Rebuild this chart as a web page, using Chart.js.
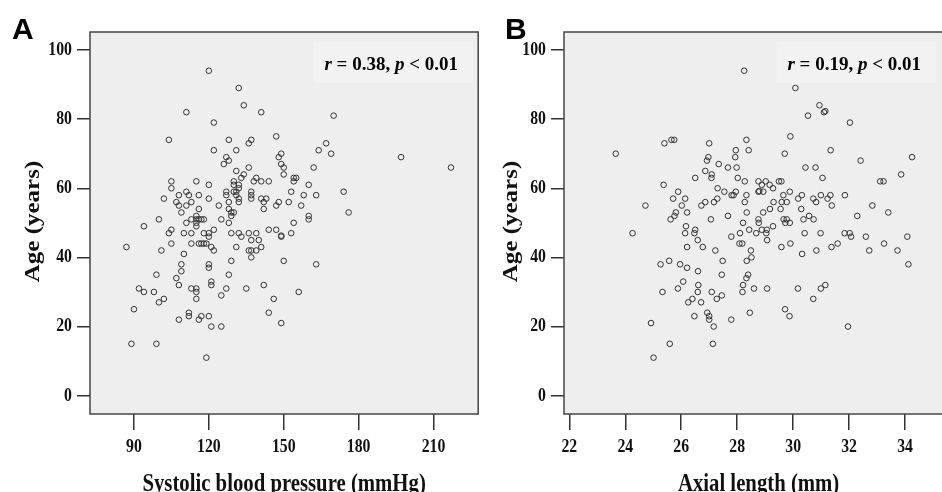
<!DOCTYPE html>
<html><head><meta charset="utf-8">
<script src="https://cdn.jsdelivr.net/npm/chart.js@4.4.1/dist/chart.umd.min.js"></script>
<style>
html,body{margin:0;padding:0;background:#fff;overflow:hidden;width:942px;height:492px;}
#wrap{position:relative;width:942px;height:492px;overflow:hidden;}
canvas{position:absolute;top:0;}
#cA{left:0;}
#cB{left:482px;}
</style></head><body>
<div id="wrap"><canvas id="cA" width="482" height="492"></canvas><canvas id="cB" width="475" height="492"></canvas></div>
<script>
// ---------- Data ----------
const sbpA = [120,132,134,111,141,170,122,104,128,137,136,147,167,164,169,122,131,149,148,197,217,127,128,126,149,150,136,162,131,134,133,150,154,155,154,130,138,141,144,139,105,115,120,130,132,160,105,132,130,131,127,111,137,153,174,108,112,116,127,131,137,158,163,102,120,132,137,141,143,107,113,128,132,142,148,152,108,111,124,147,157,116,128,142,109,129,130,176,115,160,129,113,115,116,117,118,100,125,160,111,115,128,154,94,115,105,122,144,147,104,110,113,118,120,129,132,136,139,153,120,133,149,149,137,140,105,113,116,117,118,119,87,121,131,141,101,122,136,137,139,110,137,120,109,129,150,163,120,109,99,128,107,121,121,108,142,92,113,115,127,135,94,98,115,156,125,102,115,146,100,90,112,112,144,117,120,108,116,149,121,125,89,99,119];
const ageA = [94,89,84,82,82,81,79,74,74,74,73,75,73,71,70,71,71,70,69,69,66,69,68,67,67,66,66,66,65,64,63,64,63,63,62,62,62,62,62,63,62,62,61,61,61,61,60,60,59,59,59,59,59,59,59,58,58,58,58,58,58,58,58,57,57,57,57,57,57,56,56,56,56,56,56,56,55,55,55,55,55,54,54,54,53,53,53,53,52,52,52,51,51,51,51,51,51,51,51,50,50,50,50,49,49,48,48,48,48,47,47,47,47,47,47,47,47,47,47,46,46,46,46.3,45,45,44,44,44,44,44,44,43,43,43,43,42,42,42,42,42,41,40,38,38,39,39,38,37,36,35,35,34,33,32,32,32,31,31,31,31,31,30,30,30,30,29,28,28,28,27,25,24,23,24,23,23,22,22,21,20,20,15,15,11];
const axialB = [28.25,30.08,30.94,31.1,31.15,30.53,32.03,29.9,25.4,25.65,25.75,27.0,28.33,28.41,27.95,31.34,23.66,29.7,27.93,26.97,34.25,26.92,32.41,27.34,27.67,27.98,30.44,30.8,26.86,27.09,33.86,26.5,27.08,28.02,31.05,28.27,28.76,29.02,29.49,29.58,33.11,33.23,25.37,28.88,29.16,29.28,27.3,25.89,27.54,27.95,28.76,28.93,28.79,29.88,27.8,27.87,28.33,29.65,30.31,30.99,31.33,31.85,25.71,26.14,27.29,30.18,30.72,31.23,26.86,27.17,28.27,29.3,29.59,29.77,30.82,24.72,26.02,26.72,31.38,32.83,29.55,30.29,29.17,25.81,26.21,28.34,28.93,33.4,25.76,27.67,30.57,32.29,25.62,27.06,28.76,29.66,29.77,30.37,30.73,28.21,28.77,29.72,29.88,26.17,29.28,26.5,28.43,28.88,29.06,24.26,26.14,26.47,28.1,28.68,29.04,30.41,30.98,31.84,32.02,27.79,32.07,32.6,34.08,26.59,29.07,28.08,28.18,29.9,31.59,33.25,26.21,26.77,29.58,31.37,27.22,28.49,30.83,32.72,33.73,30.32,28.51,27.48,28.34,25.26,25.96,34.12,25.57,26.21,26.6,27.45,28.39,28.33,26.07,26.61,28.21,31.15,25.88,28.6,29.07,30.17,30.99,25.33,26.59,27.09,28.19,27.27,27.45,26.4,30.72,26.25,26.71,29.71,28.45,26.93,26.47,27.0,29.87,27.0,27.79,24.92,27.16,31.96,25.59,27.13,25.01];
const ageB = [94,89,84,82,82.3,81,79,75,73,74,74,73,74,71,71,71,70,70,69,69,69,68,68,67,66,66,66,66,65,64,64,63,63,63,63,62,62,62,62,62,62,62,61,61,61,60,60,59,59,59,59,59,59.2,59,58,58,58,58,58,58,58,58,57,57,57,57,57,57,56,56,56,56,56,56,56,55,55,55,55,55,54,54,54,53,53,53,53,53,52,52,52,52,51,51,51,51,51,51,51,50,50,50,50,49,49,48,48,48,48,47,47,47,47,47,47,47,47,47,47,46,46,46,46,45,45,44,44,44,44,44,43,43,43,43,42,42,42,42,42,41,40,39,39,38,38,38,39,37,36,35,35,34,33,32,32,32,31,31,31,31,31,30,30,30,30,28,29,28,28,27,27,25,24,24,23,23,23,22,22,21,20,20,15,15,11];

const xTicksA = [90,120,150,180,210];
const xTicksB = [22,24,26,28,30,32,34];
const yTicks = [0,20,40,60,80,100];

const xTitleA = 'Systolic blood pressure (mmHg)';
const xTitleB = 'Axial length (mm)';
const yTitle = 'Age (years)';
const panelLetters = ['A','B'];
const statsA = [['r',true],[' = 0.38, ',false],['p',true],[' < 0.01',false]];
const statsB = [['r',true],[' = 0.19, ',false],['p',true],[' < 0.01',false]];

// ---------- Drawing ----------
const SERIF = "'Liberation Serif','Times New Roman',serif";
const SQUEEZE = 0.83;   // the source typography is horizontally condensed
const STAT_SIZE = 19;

function statWidth(ctx, parts) {
  let w = 0;
  parts.forEach(([t, it]) => {
    ctx.font = (it ? 'italic ' : '') + 'bold ' + STAT_SIZE + 'px ' + SERIF;
    w += ctx.measureText(t).width;
  });
  return w;
}

// condensed tick labels (uses the scale's own label items)
function condensedLabels(chartArea) {
  const ctx = this.ctx;
  const items = this.getLabelItems(chartArea);
  for (const item of items) {
    const o = item.options;
    ctx.save();
    ctx.translate(o.translation[0], o.translation[1]);
    ctx.rotate(o.rotation || 0);
    ctx.scale(SQUEEZE, 1);
    ctx.font = item.font.string;
    ctx.fillStyle = o.color;
    ctx.textAlign = o.textAlign;
    ctx.textBaseline = o.textBaseline;
    ctx.fillText(item.label, 0, item.textOffset);
    ctx.restore();
  }
}

function condensedTitle() {
  const ctx = this.ctx;
  const t = this.options.title;
  const a = this.chart.chartArea;
  const size = t.font.size;
  ctx.save();
  ctx.font = 'bold ' + size + 'px ' + SERIF;
  ctx.fillStyle = t.color;
  ctx.textAlign = 'center';
  ctx.textBaseline = 'alphabetic';
  if (this.isHorizontal()) {
    ctx.translate((a.left + a.right) / 2, this.bottom - 1);
    ctx.scale(SQUEEZE, 1);
    ctx.fillText(t.text, 0, 0);
  } else {
    const cx = this.left + this.chart.options.plugins.panel.yTitleX;
    ctx.translate(cx, (a.top + a.bottom) / 2 - 1.5);
    ctx.rotate(-Math.PI / 2);
    ctx.scale(1, SQUEEZE);
    ctx.fillText(t.text, 0, 0.24 * size);
  }
  ctx.restore();
}

const panelPlugin = {
  id: 'panel',
  beforeDraw(chart, args, o) {
    const {ctx, chartArea: a} = chart;
    Object.values(chart.scales).forEach(s => {
      s.drawLabels = condensedLabels;
      s.drawTitle = condensedTitle;
    });
    ctx.save();
    ctx.fillStyle = '#eeeeee';
    ctx.fillRect(a.left, a.top, a.right - a.left, a.bottom - a.top);
    const w = statWidth(ctx, o.stats);
    ctx.fillStyle = '#f2f2f2';
    ctx.fillRect(o.statRight - w - 11, 42, w + 26, 41);
    ctx.restore();
  },
  afterDraw(chart, args, o) {
    const {ctx, chartArea: a} = chart;
    ctx.save();
    ctx.strokeStyle = '#444';
    ctx.lineWidth = 1.5;
    ctx.strokeRect(a.left, a.top, a.right - a.left, a.bottom - a.top);
    const w = statWidth(ctx, o.stats);
    let x = o.statRight - w;
    ctx.fillStyle = '#000';
    ctx.textBaseline = 'alphabetic';
    ctx.textAlign = 'left';
    o.stats.forEach(([t, it]) => {
      ctx.font = (it ? 'italic ' : '') + 'bold ' + STAT_SIZE + 'px ' + SERIF;
      ctx.fillText(t, x, 70);
      x += ctx.measureText(t).width;
    });
    ctx.font = "bold 30px 'Liberation Sans',Arial,sans-serif";
    ctx.fillText(o.letter, o.letterX, 39);
    ctx.restore();
  }
};

function makeChart(id, xs, ys, cfg) {
  const pts = xs.map((x, i) => ({x: x, y: ys[i]}));
  return new Chart(document.getElementById(id), {
    type: 'scatter',
    data: {datasets: [{
      data: pts,
      pointStyle: 'circle',
      pointRadius: 2.8,
      pointHoverRadius: 2.8,
      borderWidth: 1,
      borderColor: '#333',
      backgroundColor: 'rgba(0,0,0,0)'
    }]},
    plugins: [panelPlugin],
    options: {
      responsive: false,
      animation: false,
      devicePixelRatio: 1,
      layout: {padding: {top: 32, left: 0, right: cfg.padRight, bottom: 0}},
      plugins: {
        legend: {display: false},
        tooltip: {enabled: false},
        panel: {stats: cfg.stats, statRight: cfg.statRight, letter: cfg.letter,
                letterX: cfg.letterX, yTitleX: cfg.yTitleX}
      },
      scales: {
        x: {
          type: 'linear',
          min: cfg.xMin, max: cfg.xMax,
          afterBuildTicks: s => { s.ticks = cfg.xTicks.map(v => ({value: v})); },
          afterFit: s => { s.height = 78; s.paddingLeft = 0; s.paddingRight = 0; },
          grid: {drawOnChartArea: false, drawTicks: true, tickLength: 16, color: '#333', lineWidth: 1.5},
          border: {display: false},
          ticks: {padding: 6, color: '#111', maxRotation: 0, autoSkip: false,
                  font: {family: SERIF, size: 19, weight: 'bold'},
                  callback: v => String(v)},
          title: {display: true, text: cfg.xTitle, color: '#111',
                  font: {family: SERIF, size: 25, weight: 'bold', lineHeight: 1},
                  padding: 0}
        },
        y: {
          type: 'linear',
          min: -5.3, max: 105.2,
          afterBuildTicks: s => { s.ticks = yTicks.map(v => ({value: v})); },
          afterFit: s => { s.width = cfg.yWidth; s.paddingTop = 0; s.paddingBottom = 0; },
          grid: {drawOnChartArea: false, drawTicks: true, tickLength: 13, color: '#333', lineWidth: 1.5},
          border: {display: false},
          ticks: {padding: 5, color: '#111', autoSkip: false,
                  font: {family: SERIF, size: 19, weight: 'bold'},
                  callback: v => String(v)},
          title: {display: true, text: yTitle, color: '#111',
                  font: {family: SERIF, size: 25, weight: 'bold', lineHeight: 1.2},
                  padding: 0}
        }
      }
    }
  });
}

makeChart('cA', sbpA, ageA, {
  xMin: 72.4, xMax: 227.9, xTicks: xTicksA, xTitle: xTitleA,
  yWidth: 90, padRight: 1, yTitleX: 34,
  stats: statsA, statRight: 458, letter: panelLetters[0], letterX: 12
});
makeChart('cB', axialB, ageB, {
  xMin: 21.81, xMax: 35.72, xTicks: xTicksB, xTitle: xTitleB,
  yWidth: 82, padRight: 2, yTitleX: 511.7 - 482,
  stats: statsB, statRight: 921 - 482, letter: panelLetters[1], letterX: 505 - 482
});
</script>
</body></html>
